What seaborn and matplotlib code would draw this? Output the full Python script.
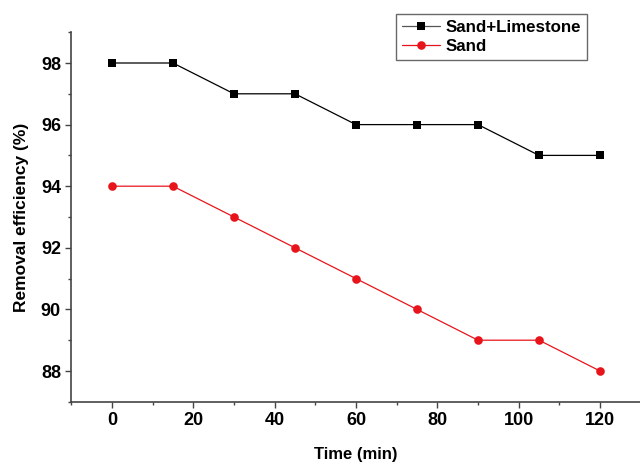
import matplotlib
matplotlib.use("Agg")
import matplotlib.pyplot as plt
import seaborn as sns
import pandas as pd
from matplotlib.ticker import MultipleLocator

time_min = [0, 15, 30, 45, 60, 75, 90, 105, 120]
sand_limestone = [98, 98, 97, 97, 96, 96, 96, 95, 95]
sand = [94, 94, 93, 92, 91, 90, 89, 89, 88]
series_names = ["Sand+Limestone", "Sand"]

df = pd.DataFrame({
    "Time": time_min * 2,
    "Eff": sand_limestone + sand,
    "Series": [series_names[0]] * len(time_min) + [series_names[1]] * len(time_min),
})

sns.set_style("ticks")
plt.rcParams['font.family'] = ['Liberation Sans', 'DejaVu Sans']
plt.rcParams['font.weight'] = 'bold'
plt.rcParams['text.color'] = 'black'
plt.rcParams['axes.labelcolor'] = 'black'
plt.rcParams['xtick.labelcolor'] = 'black'
plt.rcParams['ytick.labelcolor'] = 'black'

fig = plt.figure(figsize=(6.4, 4.65), dpi=100)
ax = fig.add_axes([71.3 / 640, 1 - 401.8 / 465, 569.4 / 640, 369.6 / 465])

sns.lineplot(data=df, x="Time", y="Eff", hue="Series", style="Series",
             palette={series_names[0]: "black", series_names[1]: "#e8141c"},
             markers={series_names[0]: "s", series_names[1]: "o"},
             dashes=False, markersize=6.2, linewidth=0.9, markeredgewidth=0,
             ax=ax)

ax.set_xlim(-10, 130)
ax.set_ylim(87, 99)
ax.xaxis.set_major_locator(MultipleLocator(20))
ax.xaxis.set_minor_locator(MultipleLocator(10))
ax.yaxis.set_major_locator(MultipleLocator(2))
ax.yaxis.set_minor_locator(MultipleLocator(1))
ax.tick_params(axis='both', which='major', length=4.5, width=1, labelsize=13, direction='out',
               color='#444444', labelcolor='black', pad=3)
ax.tick_params(axis='both', which='minor', length=2.5, width=1, direction='out', color='#444444')
for lab in ax.get_xticklabels() + ax.get_yticklabels():
    lab.set_fontweight('bold')

sns.despine(ax=ax)
for s in ['left', 'bottom']:
    ax.spines[s].set_linewidth(1.2)
    ax.spines[s].set_color('#444444')

ax.set_xlabel("Time (min)", fontsize=12, fontweight='bold', labelpad=13, color='black')
ax.set_ylabel("Removal efficiency (%)", fontsize=12.5, fontweight='bold', labelpad=8.5, color='black')

leg = ax.legend(loc='upper right', frameon=True, fancybox=False, fontsize=12.2, handlelength=2.3,
                borderpad=0.35, labelspacing=0.25, handletextpad=0.3, borderaxespad=0,
                markerscale=1.0)
leg.set_bbox_to_anchor((587 / 640, 1 - 14 / 465), transform=fig.transFigure)
leg.get_frame().set_edgecolor('#444444')
leg.get_frame().set_linewidth(1)
handles = leg.legend_handles
handles[0].set_color('#555555')
handles[0].set_markerfacecolor('black')
for t in leg.get_texts():
    t.set_fontweight('bold')
    t.set_color('black')

fig.savefig("out.png", dpi=100)
